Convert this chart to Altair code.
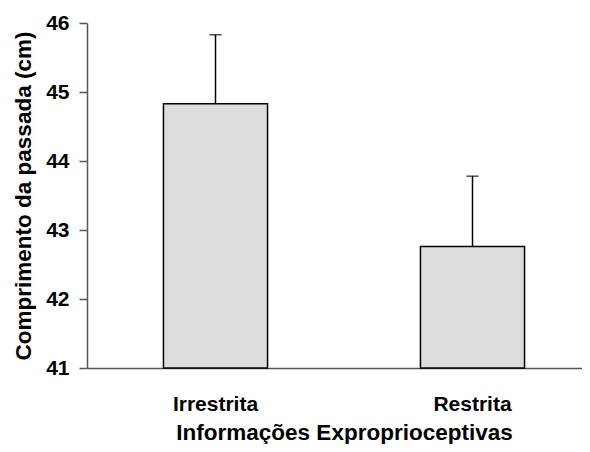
import altair as alt
import pandas as pd

categories = ["Irrestrita", "Restrita"]
means = [44.83, 42.76]
errors = [1.0, 1.02]
y_min = 41
y_max = 46

df = pd.DataFrame({
    "cat": categories,
    "mean": means,
    "top": [m + e for m, e in zip(means, errors)],
    "base": [y_min] * len(categories),
})

FONT = "Liberation Sans"

x = alt.X("cat:N", sort=categories, title="Informações Exproprioceptivas",
          scale=alt.Scale(range=[0, 514], paddingInner=0.595, paddingOuter=0.2975),
          axis=alt.Axis(labelAngle=0, ticks=False, labelPadding=25, titlePadding=7,
                        domainColor="#555555", domainWidth=1.5))
yscale = alt.Scale(domain=[y_min, y_max], zero=False, nice=False)
yaxis = alt.Axis(values=[41, 42, 43, 44, 45, 46], format="d", tickSize=8, labelPadding=10,
                 titlePadding=10, grid=False, domainColor="#555555", tickColor="#555555",
                 domainWidth=1.5, tickWidth=1.5)

base = alt.Chart(df)

bars = base.mark_bar(fill="#dddddd", stroke="#000000", strokeWidth=1.5).encode(
    x=x,
    y=alt.Y("mean:Q", scale=yscale, axis=yaxis, title="Comprimento da passada (cm)"),
    y2="base:Q",
)

rule = base.mark_rule(color="#000000", strokeWidth=1.5).encode(
    x=alt.X("cat:N", sort=categories),
    y="mean:Q",
    y2="top:Q",
)

cap = base.mark_tick(color="#000000", thickness=1.5, size=12, orient="horizontal").encode(
    x=alt.X("cat:N", sort=categories),
    y="top:Q",
)

chart = (bars + rule + cap).properties(
    width=495,
    height=345,
    padding={"left": 79, "top": 15, "right": 0, "bottom": 76},
    autosize=alt.AutoSizeParams(type="none"),
).configure_view(stroke=None).configure_axis(
    labelFont=FONT, titleFont=FONT, labelFontSize=21, titleFontSize=22.5,
    labelFontWeight="bold", titleFontWeight="bold", labelColor="#000000", titleColor="#000000",
)

chart.save("out.html", embed_options={"renderer": "svg", "actions": False})
